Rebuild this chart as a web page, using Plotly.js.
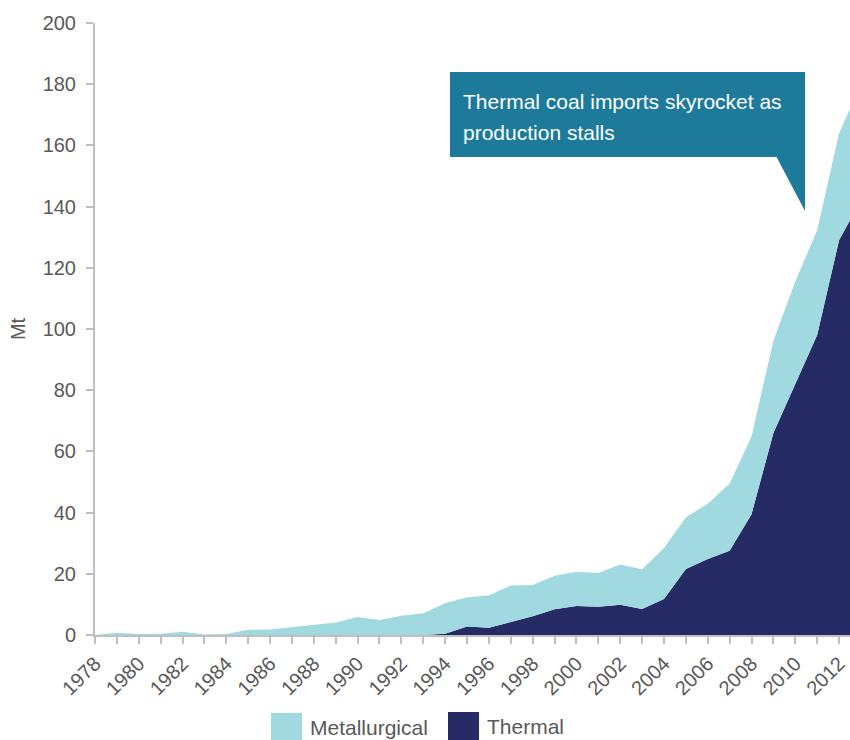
<!DOCTYPE html>
<html>
<head>
<meta charset="utf-8">
<script src="https://cdn.plot.ly/plotly-3.0.1.min.js"></script>
<style>html,body{margin:0;padding:0;background:#fff;}#chart{width:850px;height:740px;}</style>
</head>
<body>
<div id="chart"></div>
<script>
// Data (Mt)
const years = [1978,1979,1980,1981,1982,1983,1984,1985,1986,1987,1988,1989,1990,1991,1992,1993,1994,1995,1996,1997,1998,1999,2000,2001,2002,2003,2004,2005,2006,2007,2008,2009,2010,2011,2012,2013];
const thermal = [0,0,0,0,0,0,0,0,0,0,0,0,0,0,0,0,0.4,2.8,2.4,4.3,6.1,8.4,9.5,9.2,9.9,8.5,11.8,21.6,24.8,27.5,39.5,66,82,98,129,142];
const metallurgical = [0,0.7,0.3,0.4,1.1,0.2,0.3,1.7,1.8,2.6,3.4,4.1,5.9,4.9,6.3,7.1,10.0,9.5,10.5,11.9,10.2,11.0,11.2,11.1,13.1,13.0,16.6,16.9,18.1,22.0,25.4,30.2,33.5,34.3,35.0,38.0];
const seriesNames = ["Thermal", "Metallurgical"];
const calloutLines = ["Thermal coal imports skyrocket as", "production stalls"];

const C_MET = "rgb(160,218,224)";
const C_THERM = "rgb(38,43,102)";
const C_CALLOUT = "rgb(29,122,154)";
const GRAY = "#bfbfbf";
const TXT = "#595959";
const FONT = "Liberation Sans, Arial, sans-serif";

// pixel -> paper helpers (plot area: x 95..850, y 23..635)
const L = 95, R = 850, T = 23, B = 635;
const px = x => (x - L) / (R - L);
const py = y => (B - y) / (B - T);

const traces = [
  {x: years, y: thermal, name: seriesNames[0], type: "scatter", mode: "lines",
   stackgroup: "one", line: {width: 0, color: C_THERM}, fillcolor: C_THERM, hoverinfo: "skip"},
  {x: years, y: metallurgical, name: seriesNames[1], type: "scatter", mode: "lines",
   stackgroup: "one", line: {width: 0, color: C_MET}, fillcolor: C_MET, hoverinfo: "skip"}
];

const shapes = [
  // callout box
  {type: "rect", xref: "paper", yref: "paper", x0: px(450), x1: px(805), y0: py(157), y1: py(72),
   fillcolor: C_CALLOUT, line: {width: 0}, layer: "above"},
  // callout pointer
  {type: "path", xref: "paper", yref: "paper", fillcolor: C_CALLOUT, line: {width: 0}, layer: "above",
   path: `M ${px(776)} ${py(156)} L ${px(805)} ${py(156)} L ${px(805)} ${py(211)} Z`},
  // legend swatches
  {type: "rect", xref: "paper", yref: "paper", x0: px(271), x1: px(302), y0: py(741), y1: py(713),
   fillcolor: C_MET, line: {width: 0}},
  {type: "rect", xref: "paper", yref: "paper", x0: px(448), x1: px(479), y0: py(741), y1: py(712),
   fillcolor: C_THERM, line: {width: 0}}
];

const annotations = [
  {xref: "paper", yref: "paper", x: px(461), y: py(102), xanchor: "left", yanchor: "middle", align: "left",
   text: calloutLines[0], showarrow: false, font: {family: FONT, size: 21, color: "#ffffff"}},
  {xref: "paper", yref: "paper", x: px(461), y: py(132), xanchor: "left", yanchor: "middle", align: "left",
   text: calloutLines[1], showarrow: false, font: {family: FONT, size: 21, color: "#ffffff"}},
  {xref: "paper", yref: "paper", x: px(308), y: py(727), xanchor: "left", yanchor: "middle",
   text: seriesNames[1], showarrow: false, font: {family: FONT, size: 21, color: TXT}},
  {xref: "paper", yref: "paper", x: px(485), y: py(726), xanchor: "left", yanchor: "middle",
   text: seriesNames[0], showarrow: false, font: {family: FONT, size: 21, color: TXT}}
];

const layout = {
  width: 850, height: 740,
  margin: {l: L, r: 850 - R, t: T, b: 740 - B, pad: 0},
  paper_bgcolor: "#fff", plot_bgcolor: "#fff",
  showlegend: false,
  font: {family: FONT, size: 20, color: TXT},
  xaxis: {
    range: [1978, 2012.5], showgrid: false, zeroline: false,
    showline: true, linecolor: GRAY, linewidth: 2,
    ticks: "outside", ticklen: 7, tickwidth: 2, tickcolor: GRAY,
    tick0: 1978, dtick: 2, tickangle: -45,
    minor: {dtick: 1, ticks: "outside", ticklen: 7, tickwidth: 2, tickcolor: GRAY},
    tickfont: {family: FONT, size: 20, color: TXT}
  },
  yaxis: {
    range: [0, 200], dtick: 20, showgrid: false, zeroline: false,
    showline: true, linecolor: GRAY, linewidth: 2,
    ticks: "outside", ticklen: 7, tickwidth: 2, tickcolor: GRAY,
    ticklabelstandoff: 6,
    tickfont: {family: FONT, size: 20, color: TXT},
    title: {text: "Mt", standoff: 12, font: {family: FONT, size: 20, color: TXT}}
  },
  shapes: shapes,
  annotations: annotations
};

Plotly.newPlot("chart", traces, layout, {displayModeBar: false, staticPlot: true});
</script>
</body>
</html>
